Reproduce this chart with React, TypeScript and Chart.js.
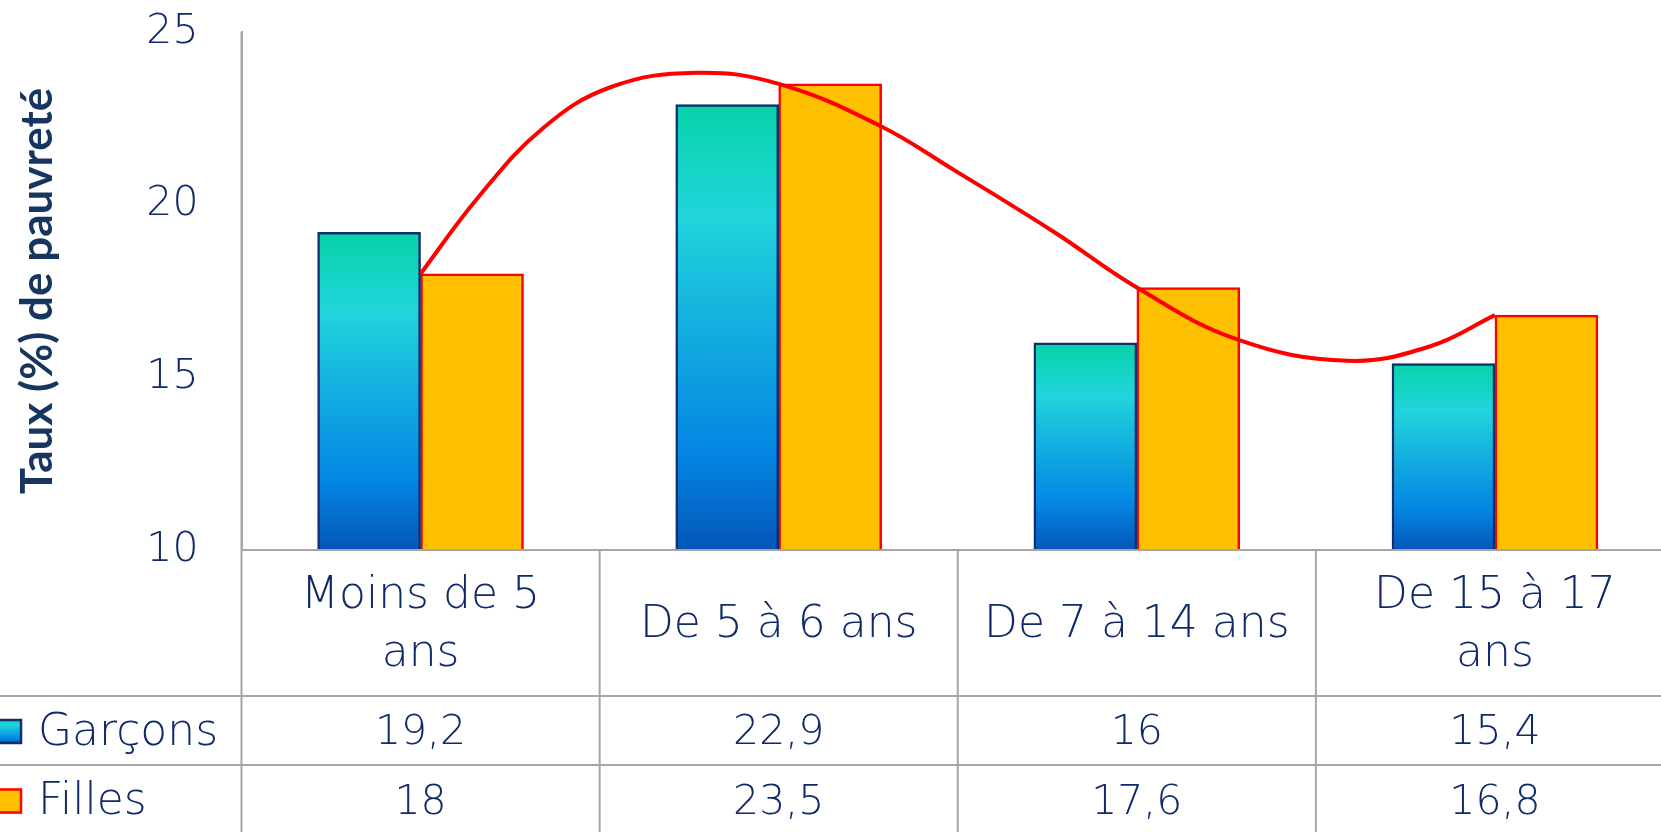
import React, { useEffect, useRef } from 'react';
import { Chart, registerables } from 'chart.js';

Chart.register(...registerables);

// ---- data ----
const categories: string[][] = [['Moins de 5', 'ans'], ['De 5 à 6 ans'], ['De 7 à 14 ans'], ['De 15 à 17', 'ans']];
const seriesNames = ['Garçons', 'Filles'];
const garcons = [19.2, 22.9, 16, 15.4];
const filles = [18, 23.5, 17.6, 16.8];
const yMin = 10;
const yMax = 25;
const yStep = 5;
const yTitle = 'Taux (%) de pauvreté';
// red trend curve drawn over the bars (x in category-index units)
const trendX = [0, 0.16, 0.34, 0.53, 0.77, 1, 1.28, 1.49, 1.77, 2, 2.28, 2.59, 2.82, 3];
const trendY = [18, 20.2, 22.2, 23.4, 23.82, 23.5, 22.3, 21.0, 19.2, 17.6, 16.1, 15.48, 15.9, 16.8];

// ---- style ----
const TEXT = '#0F2A6A';
const TITLE = '#17365F';
const GRID = '#A6A6A6';
const FAMILY = '"DejaVu Sans", sans-serif';
const NUM_SIZE = 41;
const LABEL_SIZE = 44;
const TEXT_WEIGHT = '200';

const fmt = (v: number) => String(v).replace('.', ',');

function boyGradient(c: CanvasRenderingContext2D, top: number, bottom: number) {
  const g = c.createLinearGradient(0, top, 0, bottom);
  g.addColorStop(0, '#05D3A8');
  g.addColorStop(0.25, '#21D5DC');
  g.addColorStop(0.5, '#13AEE0');
  g.addColorStop(0.78, '#0486E3');
  g.addColorStop(1, '#0556B8');
  return g;
}

const tablePlugin = {
  id: 'dataTable',
  afterDraw(chart: any) {
    const { ctx, chartArea: a, scales } = chart;
    const xs = scales.x;
    const n = categories.length;
    const W = chart.width;
    const top = a.bottom;
    const h1 = top + 146;
    const h2 = h1 + 69;
    const h3 = h2 + 72;
    ctx.save();
    ctx.strokeStyle = GRID;
    ctx.lineWidth = 2;
    const line = (x1: number, y1: number, x2: number, y2: number) => {
      ctx.beginPath();
      ctx.moveTo(x1, y1);
      ctx.lineTo(x2, y2);
      ctx.stroke();
    };
    line(a.left, top, W, top);
    line(0, h1, W, h1);
    line(0, h2, W, h2);
    line(a.left, a.top, a.left, h3);
    for (let k = 1; k <= n; k++) {
      const bx = xs.getPixelForValue(k - 0.5);
      line(bx, top, bx, h3);
    }
    ctx.fillStyle = TEXT;
    ctx.font = `${TEXT_WEIGHT} ${LABEL_SIZE}px ${FAMILY}`;
    ctx.textAlign = 'center';
    ctx.textBaseline = 'middle';
    const lh = 58;
    categories.forEach((lines, i) => {
      const cx = xs.getPixelForValue(i);
      const cy = (top + h1) / 2 + 3;
      lines.forEach((t, j) => {
        ctx.fillText(t, cx, cy + (j - (lines.length - 1) / 2) * lh);
      });
    });
    ctx.font = `${TEXT_WEIGHT} ${NUM_SIZE}px ${FAMILY}`;
    const rows = [garcons, filles];
    const rowMid = [(h1 + h2) / 2 + 3, (h2 + h3) / 2 + 2];
    rows.forEach((vals, r) => {
      vals.forEach((v, i) => {
        ctx.fillText(fmt(v), xs.getPixelForValue(i), rowMid[r]);
      });
    });
    // legend keys
    ctx.textAlign = 'left';
    ctx.font = `${TEXT_WEIGHT} ${LABEL_SIZE}px ${FAMILY}`;
    seriesNames.forEach((name, r) => {
      const cy = rowMid[r] - 2;
      const s = 25;
      const sx = -3;
      const sy = cy - s / 2;
      if (r === 0) {
        ctx.fillStyle = boyGradient(ctx, sy, sy + s);
        ctx.strokeStyle = '#0F2F6E';
      } else {
        ctx.fillStyle = '#FFC000';
        ctx.strokeStyle = '#FF0000';
      }
      ctx.fillRect(sx, sy, s, s);
      ctx.lineWidth = 2.5;
      ctx.strokeRect(sx + 1, sy + 1, s - 2, s - 2);
      ctx.fillStyle = TEXT;
      ctx.fillText(name, 38, cy + 2);
    });
    ctx.restore();
  },
};

export default function App() {
  const ref = useRef<HTMLCanvasElement | null>(null);
  useEffect(() => {
    if (!ref.current) return;
    const chart = new Chart(ref.current, {
      type: 'bar',
      data: {
        datasets: [
          {
            type: 'line',
            label: 'tendance',
            data: trendX.map((x, i) => ({ x, y: trendY[i] })),
            borderColor: '#FF0000',
            borderWidth: 4,
            pointRadius: 0,
            fill: false,
            tension: 0.4,
            order: 0,
          } as any,
          {
            label: seriesNames[0],
            data: garcons.map((v, i) => ({ x: i, y: v })),
            backgroundColor: (c: any) => {
              const ch = c.chart;
              if (!ch.chartArea || c.type !== 'data') return '#13AEE0';
              const y = ch.scales.y;
              return boyGradient(ch.ctx, y.getPixelForValue(c.parsed.y), y.getPixelForValue(yMin));
            },
            borderColor: '#0F2F6E',
            borderWidth: 2.5,
            barThickness: 'flex',
            barPercentage: 1,
            categoryPercentage: 0.575,
            order: 1,
          } as any,
          {
            label: seriesNames[1],
            data: filles.map((v, i) => ({ x: i, y: v })),
            backgroundColor: '#FFC000',
            borderColor: '#FF0000',
            borderWidth: 2.5,
            barThickness: 'flex',
            barPercentage: 1,
            categoryPercentage: 0.575,
            order: 2,
          } as any,
        ],
      },
      options: {
        responsive: false,
        animation: false,
        layout: { padding: { top: 32, right: 16, bottom: 290, left: 0 } },
        plugins: { legend: { display: false }, tooltip: { enabled: false } },
        scales: {
          x: {
            type: 'linear',
            position: 'bottom',
            min: -0.5,
            max: categories.length - 0.5,
            offset: false,
            ticks: { display: false },
            grid: { display: false, offset: false },
            border: { display: true, color: GRID, width: 2 },
            afterFit: (s: any) => { s.height = 0; },
          },
          y: {
            min: yMin,
            max: yMax,
            ticks: {
              stepSize: yStep,
              color: TEXT,
              font: { family: FAMILY, size: NUM_SIZE, weight: TEXT_WEIGHT as any },
              padding: 43,
            },
            grid: { display: false, drawTicks: false },
            border: { display: true, color: GRID, width: 2 },
            title: {
              display: true,
              text: yTitle,
              color: TITLE,
              font: { family: 'Lato, sans-serif', size: 44, weight: 'bold' },
              padding: { top: 11, bottom: 0 },
            },
            afterFit: (s: any) => {
              s.width = 241.5;
              s.paddingTop = 20;
              s.paddingBottom = 20;
            },
          },
        },
      },
      plugins: [tablePlugin],
    });
    return () => chart.destroy();
  }, []);
  return (
    <div style={{ position: 'fixed', left: 0, top: 0, width: 1661, height: 832, overflow: 'hidden', background: '#fff' }}>
      <canvas ref={ref} width={1690} height={840} style={{ display: 'block' }} />
    </div>
  );
}
